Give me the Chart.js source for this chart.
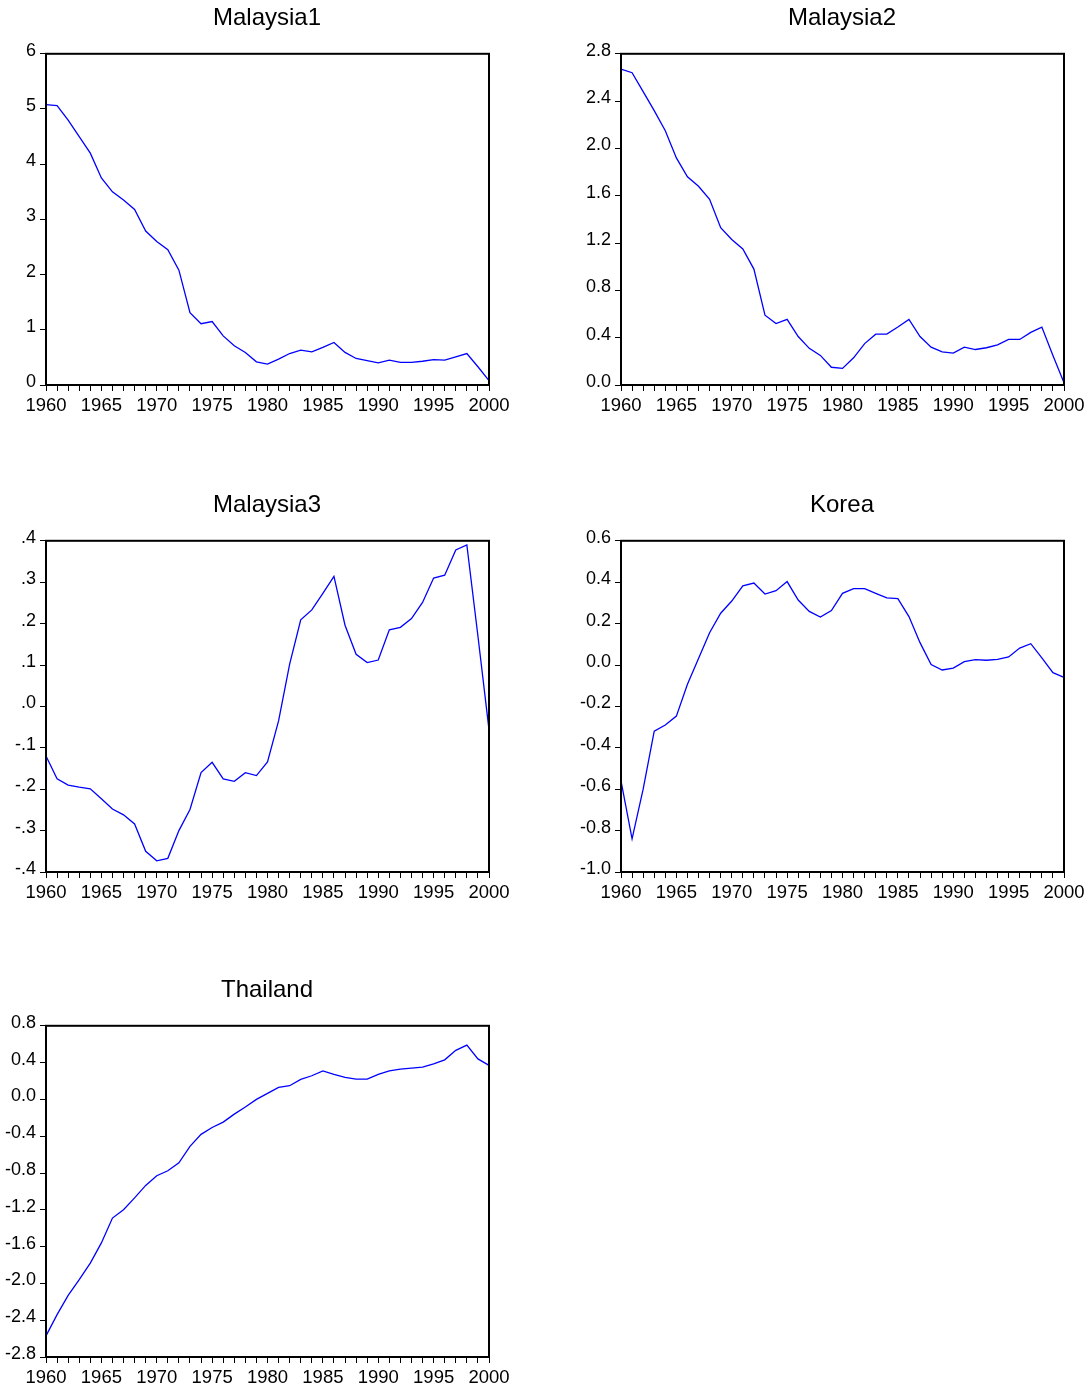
<!DOCTYPE html>
<html>
<head>
<meta charset="utf-8">
<title>Malaysia, Korea, Thailand 1960-2000</title>
<script src="https://cdn.jsdelivr.net/npm/chart.js@4/dist/chart.umd.min.js"></script>
<style>
  html, body { margin: 0; padding: 0; background: #fff; overflow: hidden; }
  #page { position: relative; width: 1088px; height: 1393px; overflow: hidden; }
  canvas { position: absolute; }
</style>
</head>
<body>
<div id="page">
  <canvas id="c1" width="534" height="420" style="left:0px;top:0px"></canvas>
  <canvas id="c2" width="534" height="420" style="left:575px;top:0px"></canvas>
  <canvas id="c3" width="534" height="420" style="left:0px;top:487px"></canvas>
  <canvas id="c4" width="534" height="420" style="left:575px;top:487px"></canvas>
  <canvas id="c5" width="534" height="420" style="left:0px;top:972px"></canvas>
</div>
<script>
// Years on the horizontal axis
const years = [
  1960, 1961, 1962, 1963, 1964, 1965, 1966, 1967, 1968, 1969,
  1970, 1971, 1972, 1973, 1974, 1975, 1976, 1977, 1978, 1979,
  1980, 1981, 1982, 1983, 1984, 1985, 1986, 1987, 1988, 1989,
  1990, 1991, 1992, 1993, 1994, 1995, 1996, 1997, 1998, 1999, 2000
];

// Series, one value per year
const malaysia1 = [
  5.08, 5.06, 4.80, 4.50, 4.20, 3.75, 3.50, 3.35, 3.18, 2.79,
  2.60, 2.45, 2.08, 1.31, 1.11, 1.15, 0.89, 0.71, 0.59, 0.42,
  0.38, 0.47, 0.57, 0.63, 0.60, 0.68, 0.77, 0.59, 0.48, 0.44,
  0.40, 0.45, 0.41, 0.41, 0.43, 0.46, 0.45, 0.51, 0.57, 0.33, 0.08
];
const malaysia2 = [
  2.67, 2.64, 2.48, 2.32, 2.15, 1.92, 1.76, 1.68, 1.57, 1.33,
  1.23, 1.15, 0.98, 0.59, 0.52, 0.555, 0.41, 0.31, 0.25, 0.15,
  0.14, 0.23, 0.35, 0.43, 0.43, 0.49, 0.555, 0.41, 0.32, 0.28,
  0.27, 0.32, 0.30, 0.315, 0.34, 0.385, 0.385, 0.445, 0.49, 0.25, 0.02
];
const malaysia3 = [
  -0.120, -0.175, -0.190, -0.195, -0.199, -0.223, -0.248, -0.262, -0.284, -0.350,
  -0.373, -0.367, -0.300, -0.249, -0.160, -0.135, -0.175, -0.181, -0.160, -0.167,
  -0.134, -0.035, 0.102, 0.209, 0.233, 0.273, 0.314, 0.196, 0.126, 0.106,
  0.112, 0.185, 0.191, 0.212, 0.251, 0.310, 0.317, 0.378, 0.390, 0.170, -0.056
];
const korea = [
  -0.56, -0.84, -0.60, -0.32, -0.29, -0.247, -0.093, 0.031, 0.156, 0.250,
  0.309, 0.382, 0.396, 0.343, 0.359, 0.403, 0.314, 0.259, 0.232, 0.263,
  0.346, 0.369, 0.369, 0.346, 0.324, 0.321, 0.234, 0.108, 0.002, -0.024,
  -0.015, 0.016, 0.026, 0.023, 0.027, 0.039, 0.082, 0.103, 0.034, -0.037, -0.060
];
const thailand = [
  -2.57, -2.34, -2.13, -1.96, -1.78, -1.56, -1.29, -1.20, -1.07, -0.935,
  -0.83, -0.776, -0.69, -0.51, -0.38, -0.305, -0.247, -0.16, -0.083, 0.0,
  0.065, 0.13, 0.149, 0.218, 0.257, 0.31, 0.272, 0.24, 0.22, 0.22,
  0.272, 0.31, 0.33, 0.34, 0.35, 0.385, 0.43, 0.533, 0.59, 0.44, 0.37
];

// Vertical axis ranges: [min, max, step]
const malaysia1Axis = [0, 6, 1];
const malaysia2Axis = [0, 2.8, 0.4];
const malaysia3Axis = [-0.4, 0.4, 0.1];
const koreaAxis = [-1.0, 0.6, 0.2];
const thailandAxis = [-2.8, 0.8, 0.4];

const FONT = '"Liberation Sans", Arial, Helvetica, sans-serif';

// Tick label styles
const fmtInt = v => String(Math.round(v));
const fmt1 = v => (Math.abs(v) < 1e-9 ? 0 : v).toFixed(1);
const fmtNoLead = v => fmt1(v).replace(/^(-?)0\./, '$1.');

// Black box drawn around the plot area
const frame = {
  id: 'frame',
  afterDraw(chart) {
    const a = chart.chartArea, ctx = chart.ctx;
    ctx.save();
    ctx.strokeStyle = '#000';
    ctx.lineWidth = 2;
    ctx.strokeRect(a.left, a.top, a.right - a.left, a.bottom - a.top);
    ctx.restore();
  }
};

function panel(id, title, values, axis, fmt) {
  const [lo, hi, step] = axis;
  new Chart(document.getElementById(id), {
    type: 'line',
    data: {
      labels: years,
      datasets: [{
        data: values,
        borderColor: '#0000ff',
        borderWidth: 1.3,
        pointRadius: 0,
        tension: 0,
        fill: false
      }]
    },
    options: {
      responsive: false,
      animation: false,
      devicePixelRatio: 1,
      layout: { padding: 0 },
      plugins: {
        legend: { display: false },
        tooltip: { enabled: false },
        title: {
          display: true,
          text: title,
          color: '#000',
          font: { family: FONT, size: 24, weight: 'normal', lineHeight: 1.2 },
          padding: { top: 4, bottom: 21 }
        }
      },
      scales: {
        x: {
          type: 'category',
          offset: false,
          border: { display: false },
          grid: {
            display: true,
            drawOnChartArea: false,
            drawTicks: true,
            tickLength: 6,
            color: '#000',
            lineWidth: 1
          },
          ticks: {
            autoSkip: false,
            maxRotation: 0,
            minRotation: 0,
            padding: 4,
            color: '#000',
            font: { family: FONT, size: 18.5 },
            callback: function (v, i) {
              const yr = years[i];
              return yr % 5 === 0 ? String(yr) : '';
            }
          },
          afterFit(scale) { scale.height = 420 - 385; }
        },
        y: {
          type: 'linear',
          min: lo,
          max: hi,
          border: { display: false },
          grid: {
            display: true,
            drawOnChartArea: false,
            drawTicks: true,
            tickLength: 6,
            color: '#000',
            lineWidth: 1
          },
          ticks: {
            stepSize: step,
            padding: 4,
            labelOffset: -3,
            color: '#000',
            font: { family: FONT, size: 18 },
            callback: v => fmt(v)
          },
          afterFit(scale) { scale.width = 46; }
        },
        // empty right-hand margin so the title centres over the whole panel
        yRight: {
          type: 'linear',
          position: 'right',
          min: lo,
          max: hi,
          border: { display: false },
          grid: { display: false, drawTicks: false },
          ticks: { display: false },
          afterFit(scale) { scale.width = 45; }
        }
      }
    },
    plugins: [frame]
  });
}

panel('c1', 'Malaysia1', malaysia1, malaysia1Axis, fmtInt);
panel('c2', 'Malaysia2', malaysia2, malaysia2Axis, fmt1);
panel('c3', 'Malaysia3', malaysia3, malaysia3Axis, fmtNoLead);
panel('c4', 'Korea', korea, koreaAxis, fmt1);
panel('c5', 'Thailand', thailand, thailandAxis, fmt1);
</script>
</body>
</html>
